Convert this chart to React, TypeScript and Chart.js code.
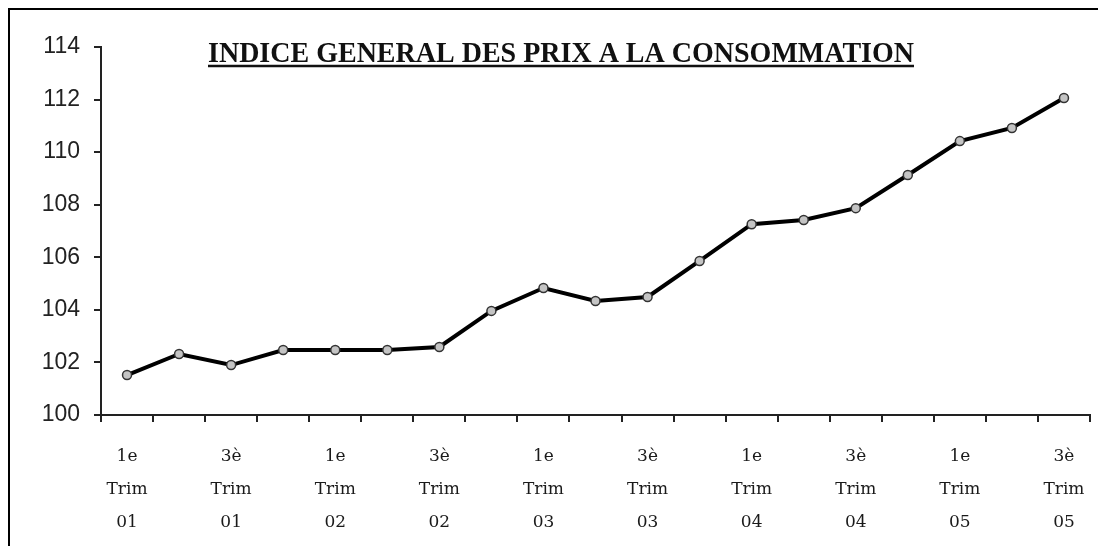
import React, { useEffect, useRef } from "react";
import { Chart, registerables } from "chart.js";

Chart.register(...registerables);

const TITLE = "INDICE GENERAL DES PRIX A LA CONSOMMATION";

const quarters: string[] = [
  "1e", "2e", "3è", "4e",
  "1e", "2e", "3è", "4e",
  "1e", "2e", "3è", "4e",
  "1e", "2e", "3è", "4e",
  "1e", "2e", "3è",
];
const years: string[] = [
  "01", "01", "01", "01",
  "02", "02", "02", "02",
  "03", "03", "03", "03",
  "04", "04", "04", "04",
  "05", "05", "05",
];
const categories: string[][] = quarters.map((q, i) => [q, "Trim", years[i]]);

const indexValues: number[] = [
  101.52, 102.32, 101.9, 102.47, 102.47, 102.47, 102.59, 103.96, 104.83, 104.34,
  104.49, 105.86, 107.26, 107.42, 107.87, 109.13, 110.42, 110.92, 112.06,
];

const yMin = 100;
const yMax = 114;
const yStep = 2;

const titlePlugin = {
  id: "underlinedTitle",
  afterDraw(chart: any) {
    const ctx = chart.ctx;
    const left = 198;
    const right = 904;
    const width = right - left;
    const cx = (left + right) / 2;
    const baseline = 52;
    ctx.save();
    ctx.fillStyle = "#111";
    ctx.font = "bold 30px 'Liberation Serif'";
    ctx.textAlign = "center";
    ctx.textBaseline = "alphabetic";
    ctx.fillText(TITLE, cx, baseline, width);
    ctx.strokeStyle = "#111";
    ctx.lineWidth = 2.5;
    ctx.beginPath();
    ctx.moveTo(left, baseline + 4);
    ctx.lineTo(right, baseline + 4);
    ctx.stroke();
    ctx.restore();
  },
};

export default function App() {
  const canvasRef = useRef<HTMLCanvasElement | null>(null);

  useEffect(() => {
    if (!canvasRef.current) return;
    const chart = new Chart(canvasRef.current, {
      type: "line",
      data: {
        labels: categories,
        datasets: [
          {
            data: indexValues,
            borderColor: "#000",
            borderWidth: 4,
            pointRadius: 4.5,
            pointHoverRadius: 4.5,
            pointBackgroundColor: "#c4c4c4",
            pointBorderColor: "#333",
            pointBorderWidth: 1.5,
            tension: 0,
            fill: false,
          },
        ],
      },
      options: {
        responsive: false,
        animation: false,
        layout: { padding: { left: 0, top: 37, right: 8, bottom: 0 } },
        plugins: {
          legend: { display: false },
          title: { display: false },
          tooltip: { enabled: false },
        },
        scales: {
          x: {
            type: "category",
            offset: true,
            grid: {
              offset: true,
              drawOnChartArea: false,
              drawTicks: true,
              tickLength: 7,
              color: "#222",
              lineWidth: 2,
            },
            border: { color: "#222", width: 2 },
            ticks: {
              autoSkip: false,
              maxRotation: 0,
              minRotation: 0,
              padding: 18,
              color: "#1a1a1a",
              font: { family: "DejaVu Serif, serif", size: 17, lineHeight: 1.94 },
              callback: (_v: any, i: number) => (i % 2 === 0 ? categories[i] : ""),
            },
            afterFit: (scale: any) => {
              scale.height = 131;
              scale.paddingLeft = 0;
              scale.paddingRight = 0;
            },
          },
          y: {
            min: yMin,
            max: yMax,
            grid: {
              drawOnChartArea: false,
              drawTicks: true,
              tickLength: 7,
              color: "#222",
              lineWidth: 2,
            },
            border: { color: "#222", width: 2 },
            ticks: {
              stepSize: yStep,
              padding: 14,
              color: "#222",
              font: { family: "'Liberation Sans'", size: 23 },
            },
            afterFit: (scale: any) => {
              scale.width = 91;
            },
          },
        },
      },
      plugins: [titlePlugin],
    });
    return () => chart.destroy();
  }, []);

  return (
    <div
      style={{
        position: "relative",
        width: 1090,
        height: 538,
        borderTop: "2px solid #000",
        borderLeft: "2px solid #000",
        boxSizing: "border-box",
        overflow: "hidden",
      }}
    >
      <canvas ref={canvasRef} width={1088} height={536} style={{ display: "block" }} />
    </div>
  );
}
